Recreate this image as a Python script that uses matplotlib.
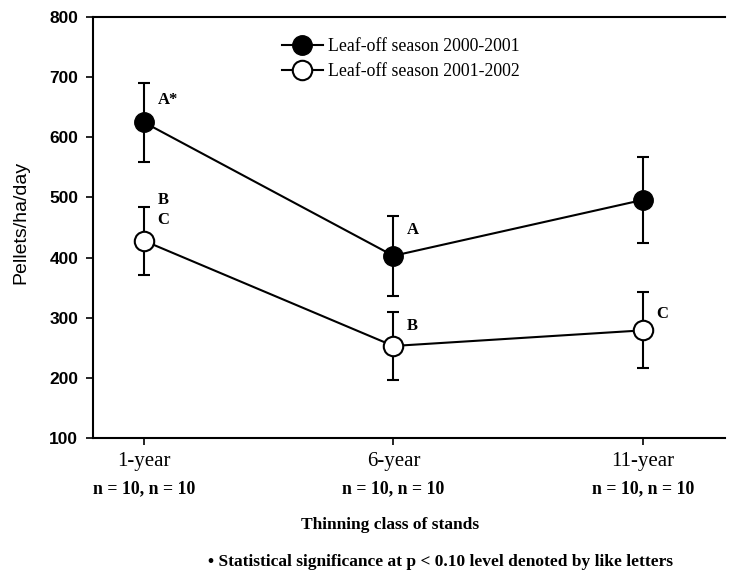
import matplotlib
matplotlib.use("Agg")
import matplotlib.pyplot as plt
from matplotlib.lines import Line2D

# Pellet counts by thinning class for two leaf-off seasons
classes = ["1-year", "6-year", "11-year"]
sample_sizes = ["n = 10, n = 10", "n = 10, n = 10", "n = 10, n = 10"]

season_2000 = [625, 403, 496]
season_2000_err = [66, 67, 72]
season_2001 = [428, 253, 279]
season_2001_err = [57, 57, 63]

# letter, vertical offset from the point (data units)
letters_2000 = [("A*", 37), ("A", 43), None]
letters_2001 = [("B", 67), ("B", 33), ("C", 28)]
extra_letter = ("C", 34)  # second letter at 1-year, 2001-2002

serif = "Liberation Serif"
sans = "Liberation Sans"

fig = plt.figure(figsize=(7.31, 5.71), dpi=100)
ax = fig.add_axes([0.127, 0.233, 0.865, 0.737])

x = list(range(len(classes)))

ax.errorbar(x, season_2000, yerr=season_2000_err, color="black", lw=1.5,
            elinewidth=1.5, capsize=4, capthick=1.5, marker="o", ms=14,
            mfc="black", mec="black", zorder=3)
ax.errorbar(x, season_2001, yerr=season_2001_err, color="black", lw=1.5,
            elinewidth=1.5, capsize=4, capthick=1.5, marker="o", ms=14,
            mfc="white", mec="black", mew=1.5, zorder=3)


def letter(xi, yi, item):
    if item is None:
        return
    lab, dy = item
    ax.text(xi + 0.055, yi + dy, lab, fontfamily=serif, fontweight="bold",
            fontsize=12, va="center", ha="left")


for xi, yi, item in zip(x, season_2000, letters_2000):
    letter(xi, yi, item)
for xi, yi, item in zip(x, season_2001, letters_2001):
    letter(xi, yi, item)
letter(x[0], season_2001[0], extra_letter)

ax.set_xlim(-0.205, 2.33)
ax.set_ylim(100, 800)
ax.set_yticks(range(100, 801, 100))
ax.set_xticks(x)
ax.set_xticklabels(classes, fontfamily=serif, fontsize=15)
for lbl in ax.get_yticklabels():
    lbl.set_fontfamily(sans)
    lbl.set_fontweight("bold")
    lbl.set_fontsize(12.5)

for xi, n in zip(x, sample_sizes):
    ax.text(xi, -0.12, n, transform=ax.get_xaxis_transform(), ha="center",
            va="center", fontfamily=serif, fontweight="bold", fontsize=12.75)

ax.spines["right"].set_visible(False)
for side in ["left", "top", "bottom"]:
    ax.spines[side].set_linewidth(1.5)
ax.tick_params(axis="both", direction="out", width=1.2, length=5)
ax.tick_params(axis="y", pad=5.5)
ax.tick_params(axis="x", pad=5)

ax.set_ylabel("Pellets/ha/day", fontfamily=sans, fontsize=14)
ax.yaxis.set_label_coords(-0.101, 0.513)
fig.text(0.534, 0.081, "Thinning class of stands", ha="center", va="center",
         fontfamily=serif, fontweight="bold", fontsize=12.5)
fig.text(0.602, 0.016, "\u2022 Statistical significance at p < 0.10 level denoted by like letters",
         ha="center", va="center", fontfamily=serif, fontweight="bold", fontsize=12.5)

handles = [
    Line2D([], [], color="black", lw=1.5, marker="o", ms=14, mfc="black", mec="black"),
    Line2D([], [], color="black", lw=1.5, marker="o", ms=14, mfc="white", mec="black", mew=1.5),
]
ax.legend(handles, ["Leaf-off season 2000-2001", "Leaf-off season 2001-2002"],
          loc="upper left", bbox_to_anchor=(0.299, 0.951), frameon=False,
          borderaxespad=0, borderpad=0,
          prop={"family": serif, "size": 12.8}, handlelength=2.3,
          handletextpad=0.3, labelspacing=0.45)

fig.savefig("out.png", dpi=100)
